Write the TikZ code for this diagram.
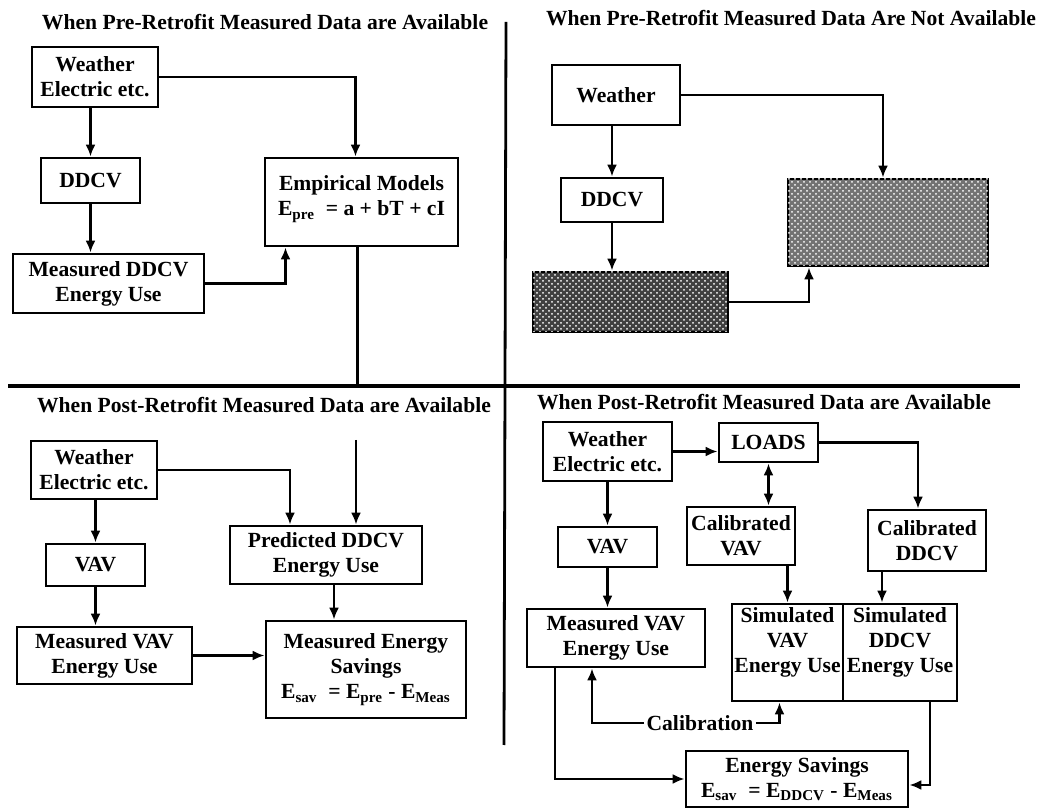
\documentclass[tikz,border=0pt]{standalone}
\usepackage{fontspec}
\setmainfont{Liberation Serif}
\usetikzlibrary{positioning,patterns,arrows.meta}
\tikzset{
  box/.style={draw, line width=1.4pt, align=center, inner sep=1pt, font=\bfseries\fontsize{10.8}{12.5}\selectfont},
  arr/.style={-{Latex[length=6pt,width=5pt]}, line width=1.3pt},
  title/.style={font=\bfseries\fontsize{10.8}{12.5}\selectfont}
}

\begin{document}
\begin{tikzpicture}[x=0.5pt,y=-0.5pt]
\useasboundingbox (0,0) rectangle (1040,812);
% dividers
\coordinate (hl) at (8,386);
\coordinate (hr) at (1020,386);
\coordinate (vt) at (506,22);
\coordinate (vb) at (504,745);
\draw[line width=1.6pt] (hl) -- (hr);
\draw[line width=1.4pt] (vt) -- (vb);

% pre-retrofit, measured
\node[title] (t1) at (265,22) {When Pre-Retrofit Measured Data are Available};
\node[box, minimum width=63pt, minimum height=30pt] (w1) at (95,77) {Weather\\Electric etc.};
\node[box, minimum width=49.5pt, minimum height=22.5pt] (ddcv1) at (90.5,180.5) {DDCV};
\node[box, minimum width=95.5pt, minimum height=29.5pt] (mddcv) at (108.5,283.5) {Measured DDCV\\Energy Use};
\node[box, minimum width=96.5pt, minimum height=44pt, text depth=6pt] (emp) at (361.5,202) {Empirical Models\\E\textsubscript{pre} \ = a + bT + cI};
\draw[arr] (w1.south -| ddcv1.north) -- (ddcv1.north);
\draw[arr] (ddcv1.south) -- (ddcv1.south |- mddcv.north);
\draw[arr] (w1.east) -| ([xshift=-3pt]emp.north);
\draw[arr] (mddcv.east) -| ([xshift=-38pt]emp.south);
\draw[line width=1.3pt] ([xshift=-2pt]emp.south) -- ([xshift=-2pt]emp.south |- hl);

% pre-retrofit, not measured
\node[title] (t2) at (791,18) {When Pre-Retrofit Measured Data Are Not Available};
\node[box, minimum width=64pt, minimum height=30pt] (w2) at (616,95) {Weather};
\node[box, minimum width=51pt, minimum height=22pt] (ddcv2) at (612,200) {DDCV};
\node[box, minimum width=97.5pt, minimum height=30pt, fill=black!75,
  postaction={pattern=crosshatch dots, pattern color=white}] (shade1) at (630.5,302) {};
\node[box, minimum width=100pt, minimum height=43.5pt, fill=black!55,
  postaction={pattern=crosshatch dots, pattern color=white}] (shade2) at (888,222.5) {};
\draw[arr] (w2.south -| ddcv2.north) -- (ddcv2.north);
\draw[arr] (ddcv2.south) -- (ddcv2.south |- shade1.north);
\draw[arr] (w2.east) -| ([xshift=-2.5pt]shade2.north);
\draw[arr] (shade1.east) -| ([xshift=-39.5pt]shade2.south);

% post-retrofit, measured
\node[title] (t3) at (264,405) {When Post-Retrofit Measured Data are Available};
\node[box, minimum width=63pt, minimum height=29pt] (w3) at (94,470) {Weather\\Electric etc.};
\node[box, minimum width=49.5pt, minimum height=21pt] (vav1) at (95.5,565) {VAV};
\node[box, minimum width=87.5pt, minimum height=28.5pt] (mvav1) at (104.5,655.5) {Measured VAV\\Energy Use};
\node[box, minimum width=96pt, minimum height=29pt] (pred) at (326,555) {Predicted DDCV\\Energy Use};
\node[box, minimum width=100pt, minimum height=48.5pt] (msav) at (366,669.5) {Measured Energy\\Savings\\E\textsubscript{sav} \ = E\textsubscript{pre} - E\textsubscript{Meas}};
\coordinate (feed) at (356,440);
\draw[arr] (feed) -- (feed |- pred.north);
\draw[arr] (w3.east) -| ([xshift=-18pt]pred.north);
\draw[arr] (w3.south -| vav1.north) -- (vav1.north);
\draw[arr] (vav1.south) -- (vav1.south |- mvav1.north);
\draw[arr] ([xshift=4pt]pred.south) -- ([xshift=4pt]pred.south |- msav.north);
\draw[arr] (mvav1.east) -- (mvav1.east -| msav.west);

% post-retrofit, simulated
\node[title] (t4) at (764,402) {When Post-Retrofit Measured Data are Available};
\node[box, minimum width=64.5pt, minimum height=29.5pt] (w4) at (607.5,451.5) {Weather\\Electric etc.};
\node[box, minimum width=49.5pt, minimum height=19.5pt] (loads) at (768.5,442.5) {LOADS};
\node[box, minimum width=49.5pt, minimum height=20pt] (vav2) at (607.5,547) {VAV};
\node[box, minimum width=54pt, minimum height=29pt] (cvav) at (741,536) {Calibrated\\VAV};
\node[box, minimum width=59pt, minimum height=30.5pt] (cddcv) at (927,540.5) {Calibrated\\DDCV};
\node[box, minimum width=89pt, minimum height=29pt] (mvav2) at (616,638) {Measured VAV\\Energy Use};
\node[box, minimum width=55.5pt, minimum height=48.5pt, text depth=12pt] (svav) at (787.5,652.5) {Simulated\\VAV\\Energy Use};
\node[box, minimum width=57pt, minimum height=48.5pt, text depth=12pt] (sddcv) at (900,652.5) {Simulated\\DDCV\\Energy Use};
\node[box, minimum width=111pt, minimum height=28pt] (esav) at (797,779) {Energy Savings\\E\textsubscript{sav} \ = E\textsubscript{DDCV} - E\textsubscript{Meas}};
\node[title, fill=white, inner sep=1pt] (calib) at (700,723) {Calibration};
\draw[arr] (w4.east) -- (w4.east -| loads.west);
\draw[arr] (w4.south -| vav2.north) -- (vav2.north);
\draw[arr] (vav2.south) -- (vav2.south |- mvav2.north);
\draw[{Latex[length=6pt,width=5pt]}-{Latex[length=6pt,width=5pt]}, line width=1.3pt] (loads.south) -- (loads.south |- cvav.north);
\draw[arr] (loads.east) -| ([xshift=-4.5pt]cddcv.north);
\draw[arr] (cvav.south -| svav.north) -- (svav.north);
\draw[arr] ([xshift=-22.5pt]cddcv.south) -- ([xshift=-22.5pt]cddcv.south |- sddcv.north);
\draw[arr] (calib.west) -| ([xshift=-12pt]mvav2.south);
\draw[arr] (calib.east) -| ([xshift=-4pt]svav.south);
\draw[arr] ([xshift=-30.5pt]mvav2.south) |- (esav.west);
\draw[arr] ([xshift=15pt]sddcv.south) |- ([yshift=-3pt]esav.east);
\end{tikzpicture}
\end{document}
